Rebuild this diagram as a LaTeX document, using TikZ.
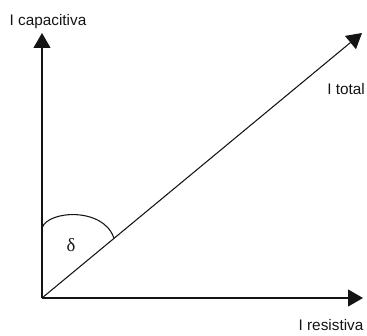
\documentclass[tikz,border=0pt]{standalone}
\usepackage{fontspec}
\setmainfont{Liberation Sans}
\newfontfamily\greekfont{Liberation Serif}
\usetikzlibrary{arrows.meta,calc}
\definecolor{ink}{RGB}{20,20,20}
\tikzset{
  >={Triangle[length=11.25pt,width=12.75pt]},
  axis/.style={->,draw=ink,line width=0.8pt},
  lbl/.style={font=\fontsize{11.5}{13}\selectfont,text=ink,inner sep=0pt},
  angle mark/.style={draw=ink,line width=0.8pt},
}

\begin{document}
\begin{tikzpicture}[x=0.75pt,y=-0.75pt]
    \useasboundingbox (0,0) rectangle (367,335);
    % phasors
    \coordinate (o) at (42,298);
    \coordinate (cap) at (42,33);
    \coordinate (res) at (363,298);
    \coordinate (tot) at (362,33);
    \draw[axis] (o) -- (cap);
    \draw[axis] (o) -- (res);
    \draw[axis] (o) -- (tot);
    % angle
    \coordinate (a1) at (42,228);
    \coordinate (a2) at ($(o)!0.225!(tot)$);
    \draw[angle mark] (a1) .. controls (48,210) and (104,207) .. (a2);
    \node[font=\greekfont\fontsize{14}{14}\selectfont,text=ink] (delta) at (71,245) {δ};
    % labels
    \node[lbl] (lcap) at (48,22) {I capacitiva};
    \node[lbl] (ltot) at (346,89) {I total};
    \node[lbl] (lres) at (331,325) {I resistiva};
\end{tikzpicture}
\end{document}
